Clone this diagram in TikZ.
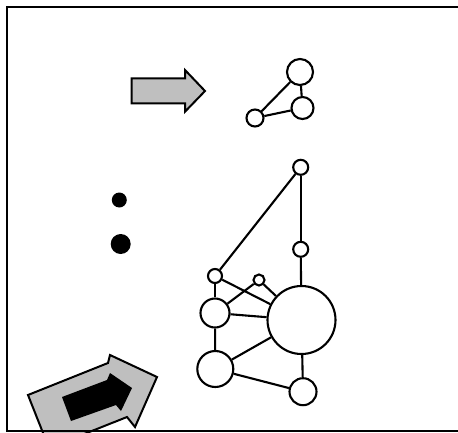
\documentclass[tikz,border=0pt]{standalone}
\begin{document}
\begin{tikzpicture}[x=1pt,y=-1pt,
  vtx/.style={circle,draw,line width=2.1pt,fill=white,inner sep=0pt},
  edge/.style={line width=2.1pt},
  dot/.style={circle,fill=black,inner sep=0pt},
  grayarrow/.style={fill=black!25,draw=black,line width=2pt,line join=miter}]
\useasboundingbox (0,0) rectangle (458,432);
\clip (0,0) rectangle (458,432);
% small gray arrow
\draw[grayarrow] (131.7,78.3) -- (185,78.3) -- (185,70) -- (205,91) -- (185,111.7) -- (185,103.3) -- (131.7,103.3) -- cycle;
% big arrow bottom left
\draw[grayarrow] (28,395) -- (108,363) -- (110,355) -- (157,377) -- (135,427) -- (127,417) -- (49,448) -- cycle;
\fill[black] (62,397) -- (107,380) -- (110,373) -- (132,388) -- (121,411) -- (116,405) -- (71,421) -- cycle;
% frame
\draw[line width=2pt] (460,7) -- (7,7) -- (7,430.5) -- (460,430.5);
% dots
\node[dot,minimum size=15pt] (d1) at (119.3,200) {};
\node[dot,minimum size=20pt] (d2) at (120.7,244) {};
% small triangle graph
\node[vtx,minimum size=26pt] (a1) at (300,72) {};
\node[vtx,minimum size=22pt] (a2) at (302.5,108) {};
\node[vtx,minimum size=17pt] (a3) at (255,118) {};
\draw[edge] (a1) -- (a2);
\draw[edge] (a1) -- (a3);
\draw[edge] (a3) -- (a2);
% large graph
\node[vtx,minimum size=15pt] (n1) at (300.7,167.3) {};
\node[vtx,minimum size=15pt] (n2) at (300.7,249.3) {};
\node[vtx,minimum size=14pt] (n3) at (215,276) {};
\node[vtx,minimum size=11pt] (n4) at (259,280) {};
\node[vtx,minimum size=29pt] (n5) at (215,313) {};
\node[vtx,minimum size=68pt] (n6) at (301.5,320) {};
\node[vtx,minimum size=36pt] (n7) at (215.3,369) {};
\node[vtx,minimum size=27pt] (n8) at (303,391.7) {};
\foreach \a/\b in {n1/n3,n1/n2,n2/n6,n3/n5,n3/n6,n4/n5,n4/n6,n5/n6,n5/n7,n7/n6,n7/n8,n6/n8}
  \draw[edge] (\a) -- (\b);
\end{tikzpicture}
\end{document}
